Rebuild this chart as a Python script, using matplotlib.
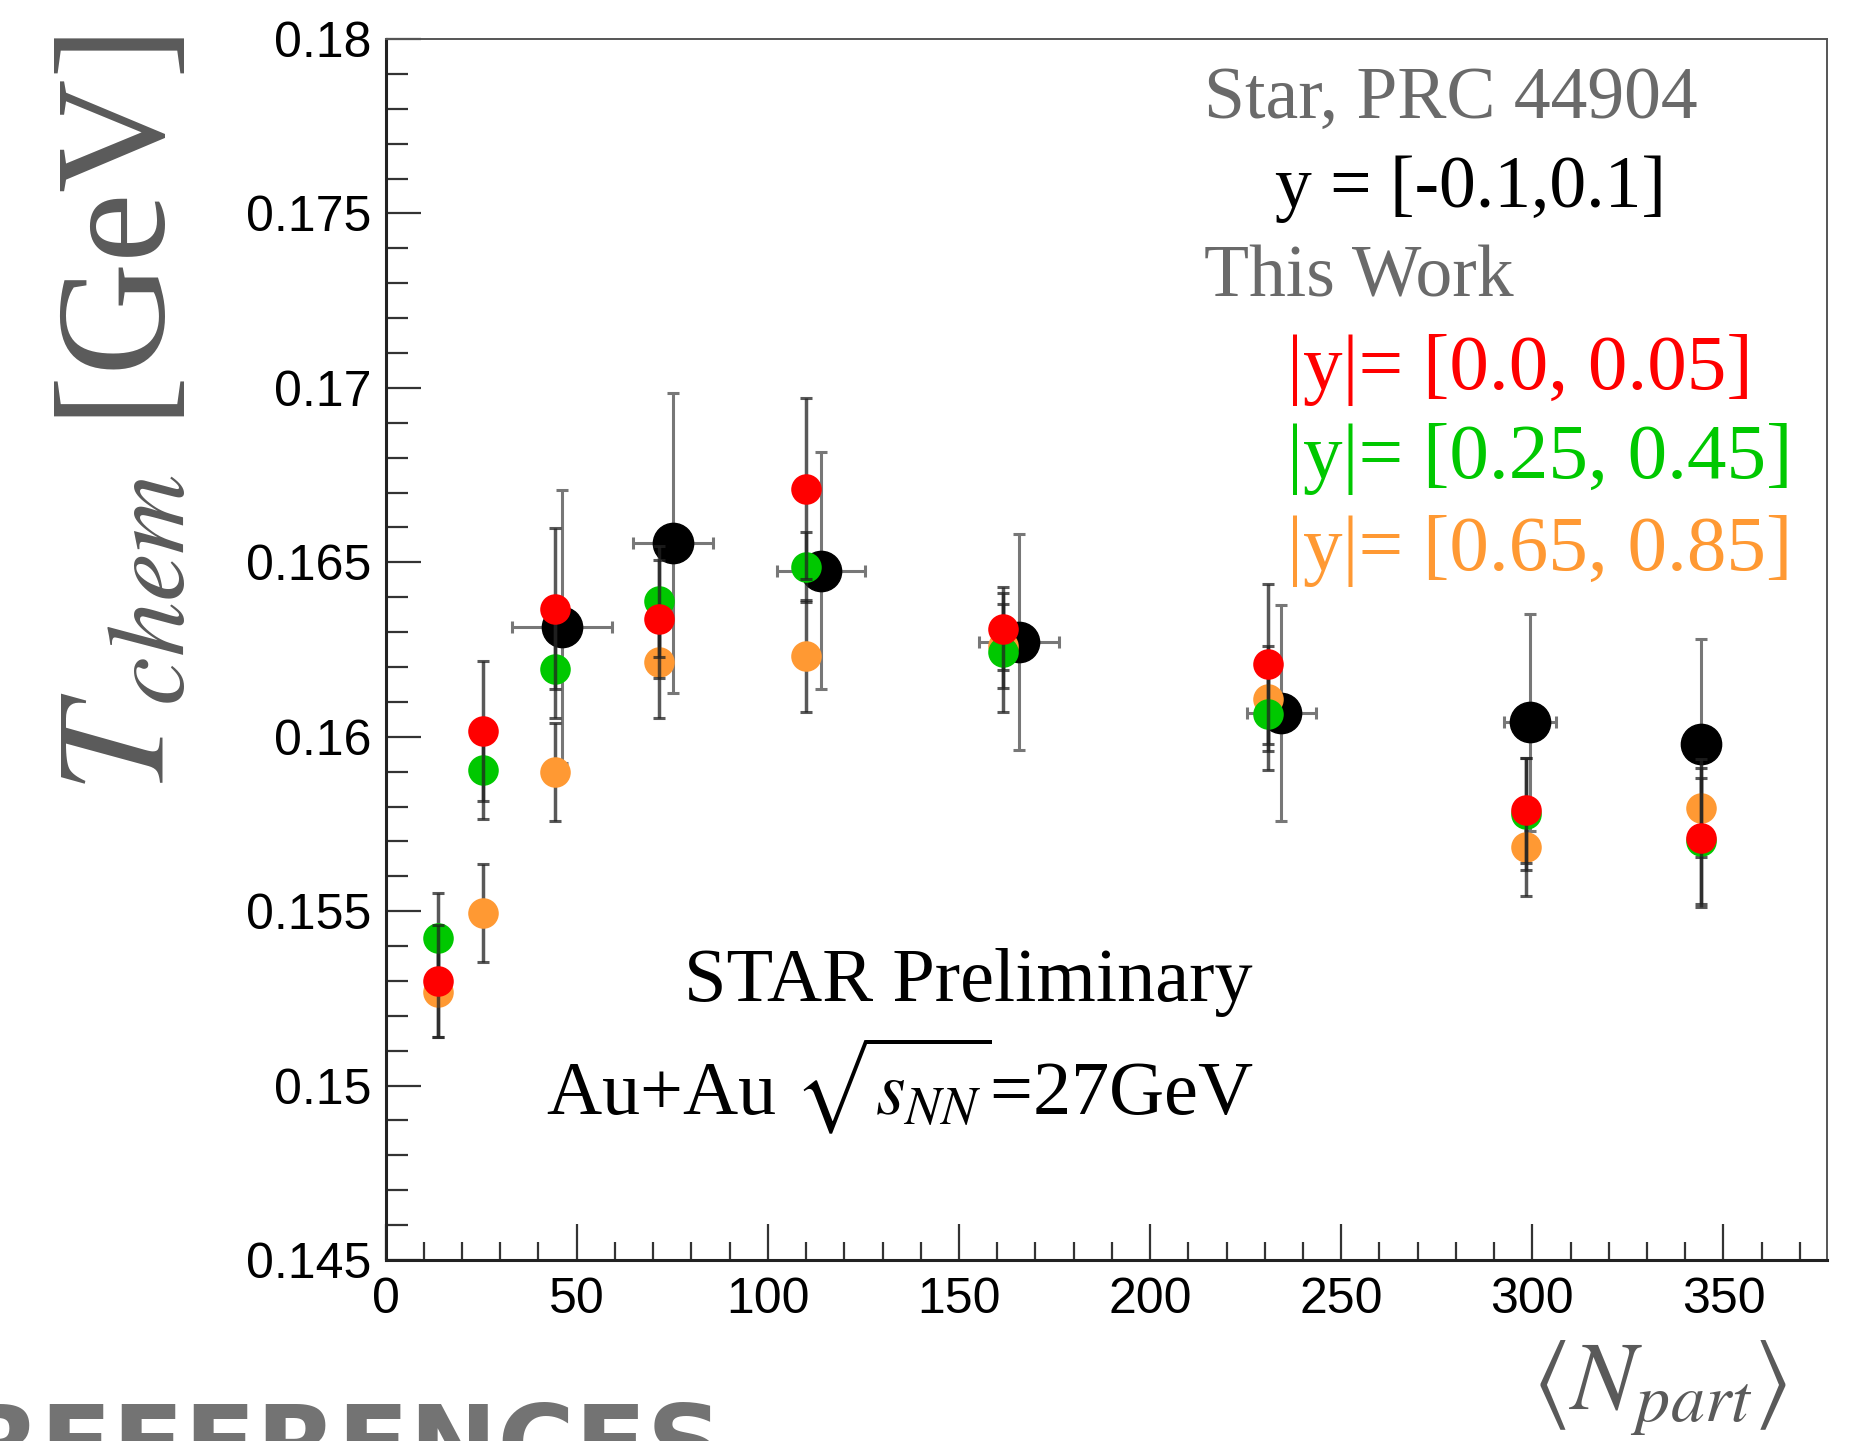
import numpy as np
import matplotlib
matplotlib.use("Agg")
import matplotlib.pyplot as plt
from matplotlib.ticker import MultipleLocator

plt.rcParams['mathtext.fontset'] = 'stix'
plt.rcParams['font.family'] = 'Liberation Serif'

# STAR, PRC 44904 (black)
star_x = [46.2, 75.1, 113.9, 165.7, 234.3, 299.5, 344.2]
star_y = [0.16316, 0.16555, 0.16476, 0.16272, 0.16068, 0.16041, 0.15980]
star_xerr = [13.0, 10.5, 11.6, 10.5, 9.0, 6.8, 0.0]
star_yerr = [0.0039, 0.0043, 0.0034, 0.0031, 0.0031, 0.0031, 0.0030]

# this work, three rapidity windows
npart = [13.7, 25.5, 44.4, 71.4, 109.9, 161.4, 230.9, 298.3, 344.2]
t_red = [0.15300, 0.16017, 0.16367, 0.16337, 0.16711, 0.16310, 0.16208, 0.15789, 0.15711]
t_green = [0.15422, 0.15905, 0.16194, 0.16388, 0.16487, 0.16242, 0.16065, 0.15779, 0.15701]
t_orange = [0.15269, 0.15494, 0.15898, 0.16214, 0.16231, 0.16260, 0.16109, 0.15684, 0.15796]
err_red = [0.0016, 0.0020, 0.0023, 0.0017, 0.0026, 0.0012, 0.0023, 0.0015, 0.0020]
err_green = [0.0013, 0.0014, 0.0014, 0.0016, 0.0010, 0.0017, 0.0016, 0.0016, 0.0018]
err_orange = [0.0013, 0.0014, 0.0014, 0.0016, 0.0016, 0.0012, 0.0015, 0.0014, 0.0014]

c_red = '#ff0000'
c_green = '#00c800'
c_orange = '#ff9933'
gray_txt = '#6a6a6a'

fig = plt.figure(figsize=(18.6, 14.41), dpi=100)
ax = fig.add_axes([0.2073, 0.1256, 0.7748, 0.8473])

ax.errorbar(star_x, star_y, xerr=star_xerr, yerr=star_yerr, fmt='o', color='black',
            ms=29, ecolor='#777777', elinewidth=2.2, capsize=4, capthick=2.2, zorder=2)
for yv, ev, col, z in [(t_orange, err_orange, c_orange, 3),
                       (t_green, err_green, c_green, 4),
                       (t_red, err_red, c_red, 5)]:
    ax.errorbar(npart, yv, yerr=ev, fmt='none', ecolor='#222222', alpha=0.75,
                elinewidth=2.5, capsize=4, capthick=2.2, zorder=z - 0.5)
    ax.plot(npart, yv, 'o', color=col, ms=22, mec='none', zorder=z)

ax.set_xlim(0, 377)
ax.set_ylim(0.145, 0.18)
ax.xaxis.set_major_locator(MultipleLocator(50))
ax.xaxis.set_minor_locator(MultipleLocator(10))
ax.yaxis.set_minor_locator(MultipleLocator(0.001))
ax.set_yticks(np.arange(0.145, 0.1801, 0.005))
ax.set_yticklabels(['0.145', '0.15', '0.155', '0.16', '0.165', '0.17', '0.175', '0.18'])

ax.tick_params(which='both', direction='in', top=False, right=False, colors='#333333',
               labelcolor='black', labelsize=36, width=1.6)
ax.tick_params(axis='y', which='major', length=25, pad=10)
ax.tick_params(axis='y', which='minor', length=16)
ax.tick_params(axis='x', which='major', length=26, pad=12)
ax.tick_params(axis='x', which='minor', length=13)
for lab in ax.get_xticklabels() + ax.get_yticklabels():
    lab.set_fontfamily('Liberation Sans')

for s in ['left', 'bottom']:
    ax.spines[s].set_linewidth(2.2)
    ax.spines[s].set_color('#222222')
for s in ['top', 'right']:
    ax.spines[s].set_linewidth(1.4)
    ax.spines[s].set_color('#555555')

# legend-like text block
ax.text(0.568, 0.950, 'Star, PRC 44904', transform=ax.transAxes, fontsize=53,
        color=gray_txt, va='center', ha='left')
ax.text(0.617, 0.877, 'y = [-0.1,0.1]', transform=ax.transAxes, fontsize=53,
        color='black', va='center', ha='left')
ax.text(0.568, 0.804, 'This Work', transform=ax.transAxes, fontsize=53,
        color=gray_txt, va='center', ha='left')
ax.text(0.6255, 0.729, '|y|= [0.0, 0.05]', transform=ax.transAxes, fontsize=57,
        color=c_red, va='center', ha='left')
ax.text(0.6255, 0.656, '|y|= [0.25, 0.45]', transform=ax.transAxes, fontsize=57,
        color=c_green, va='center', ha='left')
ax.text(0.6255, 0.581, '|y|= [0.65, 0.85]', transform=ax.transAxes, fontsize=57,
        color=c_orange, va='center', ha='left')

ax.text(0.404, 0.227, 'STAR Preliminary', transform=ax.transAxes, fontsize=55,
        color='black', va='center', ha='center')
ax.text(0.357, 0.143, r'Au+Au $\sqrt{s_{NN}}$=27GeV', transform=ax.transAxes,
        fontsize=55, color='black', va='center', ha='center')

# axis titles
fig.text(0.068, 0.712, r'$T_{chem}$ [GeV]', rotation=90, fontsize=113,
         color='#5a5a5a', ha='center', va='center')
fig.text(0.8925, 0.037, r'$\langle N_{part}\rangle$', fontsize=70,
         color='#5a5a5a', ha='center', va='center')

# slide heading cut off at the bottom
fig.text(-0.022, 0.028, 'REFERENCES', fontsize=76, color='#737373',
         family='DejaVu Sans', weight='bold', ha='left', va='top')

fig.savefig('out.png', dpi=100, facecolor='white')
